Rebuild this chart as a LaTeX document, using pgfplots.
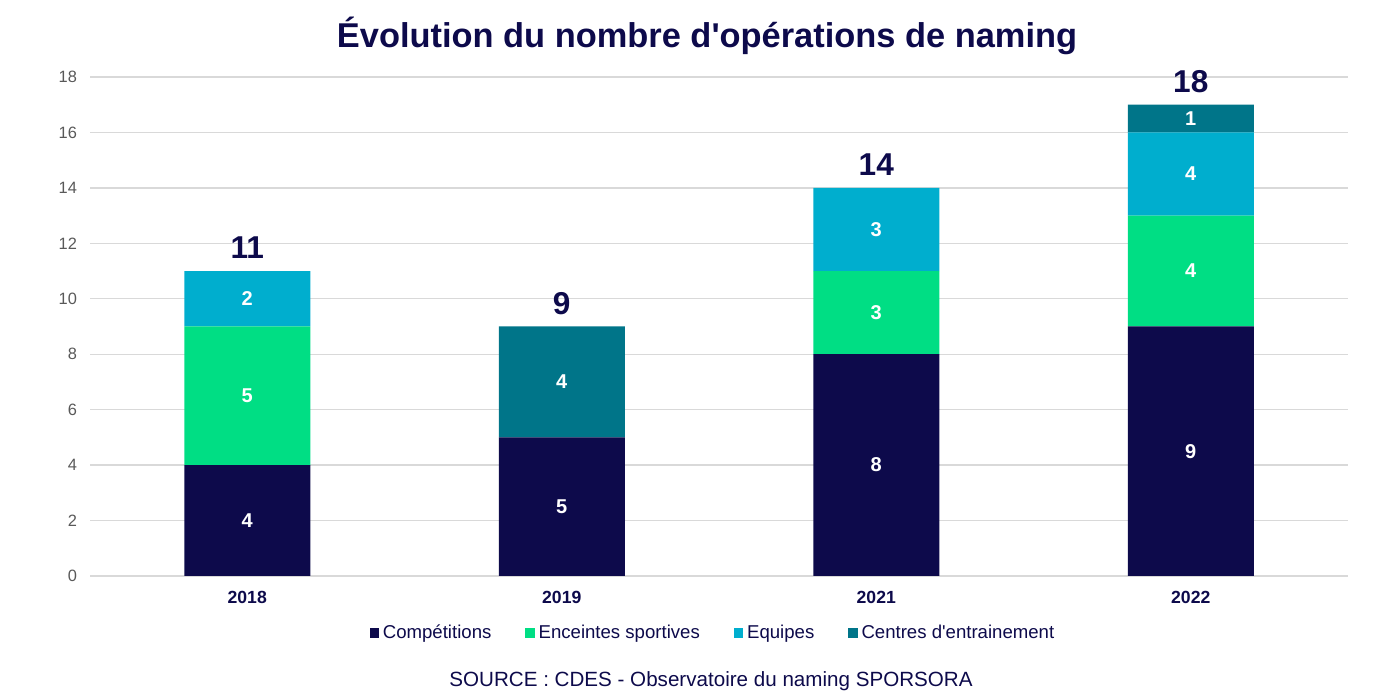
\documentclass[border=0pt]{standalone}
\usepackage{fontspec}
\setmainfont{Liberation Sans}
\usepackage{pgfplots}
\pgfplotsset{compat=1.18}

\definecolor{navy}{HTML}{0D0A4B}
\definecolor{vert}{HTML}{00DE84}
\definecolor{cyan}{HTML}{00AECE}
\definecolor{teal}{HTML}{007589}
\definecolor{gridgray}{HTML}{D9D9D9}
\definecolor{tickgray}{HTML}{595959}

\pgfplotsset{
  zone/.style={
    at={(45pt,62pt)}, anchor=south west,
    scale only axis, width=629pt, height=249.5pt,
    xmin=-0.5, xmax=3.5, ymin=0, ymax=18,
    clip=false,
  },
}

\begin{document}
\begin{tikzpicture}[x=1pt,y=1pt]
\useasboundingbox (0,0) rectangle (700,350);
\node[font=\fontsize{17.2}{20}\selectfont\bfseries, text=navy] at (353.5,332)
  {Évolution du nombre d\textquotesingle opérations de naming};
\node[font=\fontsize{10.3}{12}\selectfont, text=navy] at (355.5,9.5)
  {SOURCE : CDES - Observatoire du naming SPORSORA};
\begin{axis}[
  zone,
  ybar stacked, bar width=63pt,
  xtick={0,1,2,3}, xticklabels={2018,2019,2021,2022},
  ytick={0,2,...,18},
  ymajorgrids, grid style={draw=gridgray, line width=0.7pt},
  axis line style={draw=none}, major tick length=0pt,
  /pgf/number format/assume math mode=true,
  yticklabel style={font=\fontsize{8.2}{10}\selectfont, text=tickgray, xshift=-3pt},
  xticklabel style={font=\fontsize{8.8}{10}\selectfont\bfseries, text=navy, yshift=-4pt},
  nodes near coords, point meta=explicit symbolic,
  every node near coord/.append style={anchor=center,
    font=\fontsize{10}{12}\selectfont\bfseries, text=white},
  legend columns=4,
  legend style={at={(0.496,-0.1142)}, anchor=center, draw=none,
    font=\fontsize{9.3}{11}\selectfont, text=navy,
    /tikz/every even column/.append style={column sep=15pt}},
  legend image code/.code={\path[#1] (0pt,-2.3pt) rectangle (4.6pt,2.3pt);},
]
\addplot[fill=navy, draw=none] coordinates {(0,4)[4] (1,5)[5] (2,8)[8] (3,9)[9]};
\addplot[fill=vert, draw=none] coordinates {(0,5)[5] (1,0)[] (2,3)[3] (3,4)[4]};
\addplot[fill=cyan, draw=none] coordinates {(0,2)[2] (1,0)[] (2,3)[3] (3,3)[4]};
\addplot[fill=teal, draw=none] coordinates {(0,0)[] (1,4)[4] (2,0)[] (3,1)[1]};
\legend{Compétitions, Enceintes sportives, Equipes, Centres d\textquotesingle entrainement}
\end{axis}
% totals above the bars
\begin{axis}[zone, hide axis]
\addplot[draw=none, mark=none, nodes near coords, point meta=explicit symbolic,
  nodes near coords style={anchor=south, yshift=2.5pt, text=navy,
    font=\fontsize{15.8}{18}\selectfont\bfseries}]
  coordinates {(0,11)[11] (1,9)[9] (2,14)[14] (3,17)[18]};
\end{axis}
\end{tikzpicture}
\end{document}
